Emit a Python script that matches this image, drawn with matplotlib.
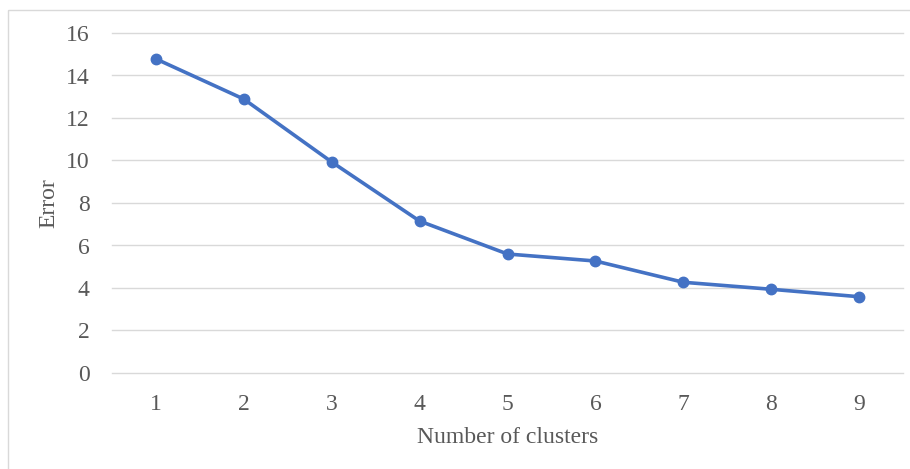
import matplotlib
matplotlib.use('Agg')
import matplotlib.pyplot as plt
from matplotlib.patches import Rectangle

# Elbow curve: error vs number of clusters
clusters = [1, 2, 3, 4, 5, 6, 7, 8, 9]
error = [14.78, 12.89, 9.93, 7.15, 5.60, 5.27, 4.27, 3.94, 3.59]
y_ticks = [0, 2, 4, 6, 8, 10, 12, 14, 16]

W, H = 910, 469
plt.rcParams['font.family'] = ['Liberation Serif', 'DejaVu Serif']

fig = plt.figure(figsize=(W / 100, H / 100), dpi=100)

# light outer chart border (only top/left visible in the reference)
fig.patches.append(Rectangle((8 / W, 1 - 10 / H), 1.0, -1.0, transform=fig.transFigure,
                             fill=False, edgecolor='#d9d9d9', linewidth=1.0))

ax = fig.add_axes([112 / W, 1 - 373 / H, 791 / W, 340 / H])

ax.plot(clusters, error, color='#4472C4', linewidth=2.6, marker='o',
        markersize=7.5, zorder=3)

ax.set_xlim(0.5, 9.5)
ax.set_ylim(0, 16)
ax.set_xticks(clusters)
ax.set_yticks(y_ticks)
ax.grid(axis='y', color='#d9d9d9', linewidth=1.0)
for line in ax.get_ygridlines():
    line.set_clip_on(False)
ax.set_axisbelow(True)
for s in ax.spines.values():
    s.set_visible(False)
ax.tick_params(length=0, labelsize=17, labelcolor='#595959')
ax.tick_params(axis='x', pad=15)
ax.tick_params(axis='y', pad=16)

ax.set_xlabel('Number of clusters', fontsize=17, color='#595959', labelpad=9)
ax.set_ylabel('Error', fontsize=17, color='#595959', labelpad=5)

fig.savefig('out.png', dpi=100)
